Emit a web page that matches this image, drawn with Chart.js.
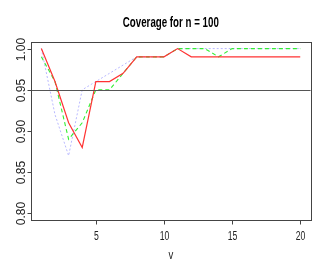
<!DOCTYPE html>
<html>
<head>
<meta charset="utf-8">
<script src="https://cdn.jsdelivr.net/npm/chart.js@4/dist/chart.umd.min.js"></script>
<style>
    html, body { margin: 0; padding: 0; background: #fff; }
    #wrap { width: 327px; height: 273px; }
</style>
</head>
<body>
<div id="wrap"><canvas id="chart" width="327" height="273"></canvas></div>
<script>
// Coverage for n = 100, three methods against v
const arrV = [1, 2, 3, 4, 5, 6, 7, 8, 9, 10, 11, 12, 13, 14, 15, 16, 17, 18, 19, 20];
const arrRed = [1.00, 0.96, 0.91, 0.88, 0.96, 0.96, 0.97, 0.99, 0.99, 0.99, 1.00, 0.99, 0.99, 0.99, 0.99, 0.99, 0.99, 0.99, 0.99, 0.99];
const arrGreen = [0.99, 0.96, 0.89, 0.91, 0.95, 0.95, 0.97, 0.99, 0.99, 0.99, 1.00, 1.00, 1.00, 0.99, 1.00, 1.00, 1.00, 1.00, 1.00, 1.00];
const arrBlue = [1.00, 0.92, 0.87, 0.95, 0.96, 0.97, 0.98, 0.99, 0.99, 0.99, 1.00, 1.00, 1.00, 1.00, 1.00, 1.00, 1.00, 1.00, 1.00, 1.00];
const xTicks = [5, 10, 15, 20];
const yTicks = [0.80, 0.85, 0.90, 0.95, 1.00];
const refLevel = 0.95;
const strTitle = 'Coverage for n = 100';
const strXLabel = 'v';

const toPoints = (arr) => arr.map((y, i) => ({ x: arrV[i], y: y }));

// Draw text squeezed horizontally, the reference uses a condensed face
function narrowText(ctx, text, x, y, squeeze) {
    ctx.save();
    ctx.translate(x, y);
    ctx.scale(squeeze, 1);
    ctx.fillText(text, 0, 0);
    ctx.restore();
}

/**
 * R-style frame: box, outside ticks, rotated y labels, title and the reference line
 */
const rFrame = {
    id: 'rFrame',
    afterDatasetsDraw: (chart) => {
        const ctx = chart.ctx;
        const { left, right, top, bottom } = chart.chartArea;
        const sx = chart.scales.x;
        const sy = chart.scales.y;
        ctx.save();

        // Reference line
        const yRef = Math.round(sy.getPixelForValue(refLevel)) + 0.5;
        ctx.strokeStyle = '#555555';
        ctx.lineWidth = 1;
        ctx.beginPath();
        ctx.moveTo(left, yRef);
        ctx.lineTo(right, yRef);
        ctx.stroke();

        // Box
        ctx.strokeStyle = '#444444';
        ctx.strokeRect(Math.round(left) + 0.5, Math.round(top) + 0.5,
            Math.round(right - left), Math.round(bottom - top));

        // X axis ticks and labels
        ctx.fillStyle = '#222222';
        ctx.font = '12px "Liberation Sans", Arial, sans-serif';
        ctx.textAlign = 'center';
        ctx.textBaseline = 'alphabetic';
        const yb = Math.round(bottom) + 0.5;
        xTicks.forEach((v) => {
            const x = Math.round(sx.getPixelForValue(v)) + 0.5;
            ctx.beginPath();
            ctx.moveTo(x, yb);
            ctx.lineTo(x, yb + 4);
            ctx.stroke();
            narrowText(ctx, String(v), x, 240, 0.72);
        });
        narrowText(ctx, strXLabel, (left + right) / 2, 259, 0.8);

        // Y axis ticks and rotated labels
        const xl = Math.round(left) + 0.5;
        yTicks.forEach((v) => {
            const y = Math.round(sy.getPixelForValue(v)) + 0.5;
            ctx.beginPath();
            ctx.moveTo(xl, y);
            ctx.lineTo(xl - 4, y);
            ctx.stroke();
            ctx.save();
            ctx.translate(25, y);
            ctx.rotate(-Math.PI / 2);
            ctx.fillText(v.toFixed(2), 0, 0);
            ctx.restore();
        });

        // Title
        ctx.font = 'bold 15px "Liberation Sans", Arial, sans-serif';
        ctx.fillStyle = '#000000';
        const squeeze = 96 / ctx.measureText(strTitle).width;
        narrowText(ctx, strTitle, (left + right) / 2, 27, squeeze);
        ctx.restore();
    },
};

new Chart(document.getElementById('chart'), {
    type: 'line',
    data: {
        datasets: [
            {
                label: 'red',
                data: toPoints(arrRed),
                borderColor: '#ff3333',
                borderWidth: 1.2,
                pointRadius: 0,
                tension: 0,
            },
            {
                label: 'green',
                data: toPoints(arrGreen),
                borderColor: '#33ee33',
                borderWidth: 1.1,
                borderDash: [4, 3],
                pointRadius: 0,
                tension: 0,
            },
            {
                label: 'blue',
                data: toPoints(arrBlue),
                borderColor: '#b8b8ff',
                borderWidth: 1,
                borderDash: [2, 2],
                pointRadius: 0,
                tension: 0,
            },
        ],
    },
    plugins: [rFrame],
    options: {
        responsive: false,
        animation: false,
        events: [],
        layout: {
            padding: { left: 31, top: 42, right: 16.4, bottom: 53 },
        },
        scales: {
            x: { type: 'linear', min: 0.24, max: 20.76, display: false },
            y: { type: 'linear', min: 0.792, max: 1.008, display: false },
        },
        plugins: {
            legend: { display: false },
            tooltip: { enabled: false },
            title: { display: false },
        },
    },
});
</script>
</body>
</html>
